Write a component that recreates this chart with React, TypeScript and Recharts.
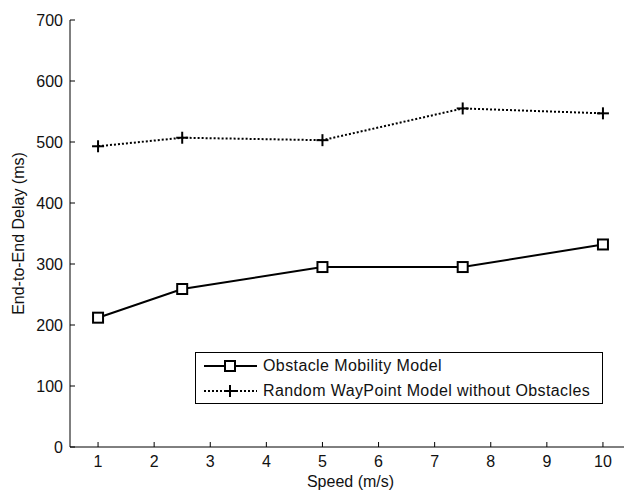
import React from 'react';
import { LineChart, Line, XAxis, YAxis, Legend } from 'recharts';

const speeds = [1, 2.5, 5, 7.5, 10];
const obstacleDelay = [212, 259, 295, 295, 332];
const randomWaypointDelay = [493, 507, 503, 555, 547];
const xTicks = [1, 2, 3, 4, 5, 6, 7, 8, 9, 10];
const yTicks = [0, 100, 200, 300, 400, 500, 600, 700];

const OBSTACLE = 'Obstacle Mobility Model';
const RANDOM = 'Random WayPoint Model without Obstacles';

const data = speeds.map((s, i) => ({
  speed: s,
  obstacle: obstacleDelay[i],
  random: randomWaypointDelay[i],
}));

const font = 'Liberation Sans, Arial, sans-serif';
const tickStyle = { fontSize: 16, fill: '#111', fontFamily: font };

const SquareDot = (props: any) => {
  const { cx, cy, key } = props;
  return <rect key={key} x={cx - 5} y={cy - 5} width={10} height={10} fill="#fff" stroke="#000" strokeWidth={2} />;
};

const PlusDot = (props: any) => {
  const { cx, cy, key } = props;
  return (
    <g key={key}>
      <line x1={cx - 6} y1={cy} x2={cx + 6} y2={cy} stroke="#000" strokeWidth={2} />
      <line x1={cx} y1={cy - 6} x2={cx} y2={cy + 6} stroke="#000" strokeWidth={2} />
    </g>
  );
};

function LegendBox() {
  const row = (label: string, dashed: boolean) => (
    <div style={{ display: 'flex', alignItems: 'center', height: 26 }}>
      <svg width={60} height={16} style={{ marginLeft: 7 }}>
        <line x1={1} y1={8} x2={54} y2={8} stroke="#000" strokeWidth={2} strokeDasharray={dashed ? '2 2' : undefined} />
        {dashed ? (
          <g>
            <line x1={21} y1={8} x2={33} y2={8} stroke="#000" strokeWidth={2} />
            <line x1={27} y1={2} x2={27} y2={14} stroke="#000" strokeWidth={2} />
          </g>
        ) : (
          <rect x={22} y={3} width={10} height={10} fill="#fff" stroke="#000" strokeWidth={2} />
        )}
      </svg>
      <span style={{ fontFamily: font, fontSize: 16, color: '#111', letterSpacing: 0.4, whiteSpace: 'nowrap' }}>{label}</span>
    </div>
  );
  return (
    <div
      style={{
        width: 406,
        height: 50,
        border: '1px solid #000',
        background: '#fff',
        boxSizing: 'content-box',
        display: 'flex',
        flexDirection: 'column',
        justifyContent: 'center',
      }}
    >
      {row(OBSTACLE, false)}
      {row(RANDOM, true)}
    </div>
  );
}

export default function App() {
  return (
    <div style={{ position: 'absolute', left: 0, top: 0, width: 624, height: 492, overflow: 'hidden', background: '#fff' }}>
      <LineChart width={640} height={492} data={data} margin={{ top: 20, right: 9, bottom: 0, left: 0 }}>
        <XAxis
          dataKey="speed"
          type="number"
          domain={[0.5, 10.5]}
          ticks={xTicks}
          tick={tickStyle}
          tickSize={-5}
          tickMargin={13.6}
          axisLine={{ stroke: '#000', strokeWidth: 1 }}
          tickLine={{ stroke: '#000' }}
          height={45}
          label={{
            content: ({ viewBox }: any) => (
              <text
                x={viewBox.x + viewBox.width / 2}
                y={viewBox.y + 40}
                textAnchor="middle"
                fontSize={16}
                fontFamily={font}
                fill="#111"
              >
                Speed (m/s)
              </text>
            ),
          }}
        />
        <XAxis
          xAxisId="top"
          dataKey="speed"
          type="number"
          orientation="top"
          mirror
          domain={[0.5, 10.5]}
          ticks={xTicks}
          tick={false}
          tickSize={5}
          height={0}
          axisLine={{ stroke: '#000', strokeWidth: 1 }}
          tickLine={{ stroke: '#000' }}
        />
        <YAxis
          domain={[0, 700]}
          ticks={yTicks}
          tick={tickStyle}
          tickSize={-5}
          tickMargin={12}
          width={70}
          axisLine={{ stroke: '#000', strokeWidth: 1 }}
          tickLine={{ stroke: '#000' }}
          label={{
            content: ({ viewBox }: any) => {
              const cx = 18;
              const cy = viewBox.y + viewBox.height / 2;
              return (
                <text
                  x={cx}
                  y={cy}
                  transform={`rotate(-90 ${cx} ${cy})`}
                  textAnchor="middle"
                  dominantBaseline="central"
                  fontSize={16}
                  fontFamily={font}
                  fill="#111"
                >
                  End-to-End Delay (ms)
                </text>
              );
            },
          }}
        />
        <Legend
          layout="vertical"
          align="center"
          verticalAlign="middle"
          wrapperStyle={{ position: 'absolute', left: 195, top: 352, width: 'auto' }}
          content={() => <LegendBox />}
        />
        <Line
          dataKey="obstacle"
          name={OBSTACLE}
          type="linear"
          stroke="#000"
          strokeWidth={2}
          dot={SquareDot}
          activeDot={false}
          isAnimationActive={false}
        />
        <Line
          dataKey="random"
          name={RANDOM}
          type="linear"
          stroke="#000"
          strokeWidth={2}
          strokeDasharray="2 2"
          dot={PlusDot}
          activeDot={false}
          isAnimationActive={false}
        />
      </LineChart>
    </div>
  );
}
